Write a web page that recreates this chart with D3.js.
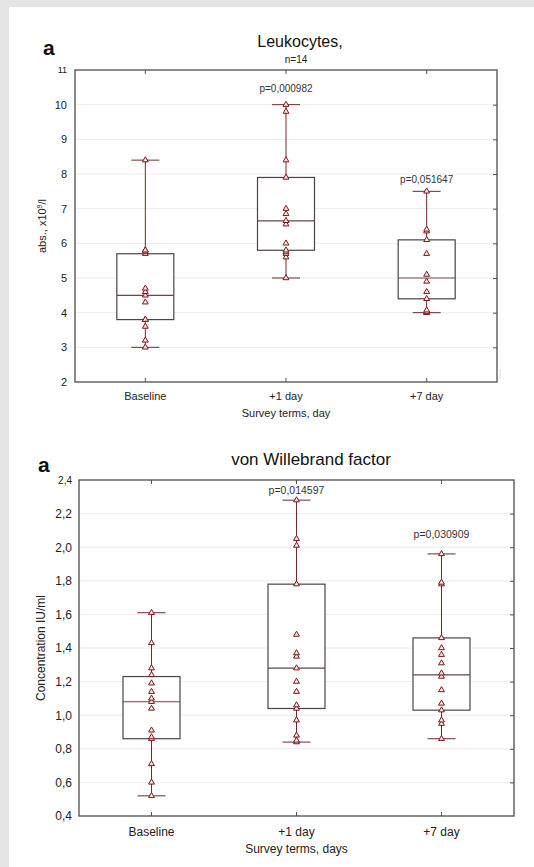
<!DOCTYPE html>
<html>
<head>
<meta charset="utf-8">
<script src="https://cdn.jsdelivr.net/npm/d3@7"></script>
<style>
  body { margin: 0; background: #e5e5e5; }
  svg { display: block; font-family: Arial, "Liberation Sans", sans-serif; }
</style>
</head>
<body>
<svg id="chart" width="534" height="867"></svg>
<script>
'use strict';

// groups
var groups = ["Baseline", "+1 day", "+7 day"];

// Leukocytes, abs. x10^9/l
var leukoMin = [3.0, 5.0, 4.0];
var leukoQ1  = [3.8, 5.8, 4.4];
var leukoMed = [4.5, 6.65, 5.0];
var leukoQ3  = [5.7, 7.9, 6.1];
var leukoMax = [8.4, 10.0, 7.5];
var leukoPoints = [
  [3.0, 3.2, 3.6, 3.8, 3.8, 4.3, 4.5, 4.6, 4.7, 5.7, 5.75, 5.8, 5.8, 8.4],
  [5.0, 5.6, 5.7, 5.75, 5.8, 6.0, 6.55, 6.65, 6.85, 7.0, 7.9, 8.4, 9.8, 10.0],
  [4.0, 4.0, 4.03, 4.07, 4.4, 4.6, 4.9, 5.1, 5.7, 6.1, 6.35, 6.4, 7.5]
];
var leukoP = ["", "p=0,000982", "p=0,051647"];
var leukoTicks = [2, 3, 4, 5, 6, 7, 8, 9, 10, 11];

// von Willebrand factor, IU/ml
var vwfMin = [0.52, 0.84, 0.86];
var vwfQ1  = [0.86, 1.04, 1.03];
var vwfMed = [1.08, 1.28, 1.24];
var vwfQ3  = [1.23, 1.78, 1.46];
var vwfMax = [1.61, 2.28, 1.96];
var vwfPoints = [
  [0.52, 0.60, 0.71, 0.86, 0.87, 0.91, 1.04, 1.08, 1.10, 1.14, 1.19, 1.24, 1.28, 1.43, 1.61],
  [0.84, 0.85, 0.88, 0.97, 1.04, 1.06, 1.14, 1.20, 1.28, 1.35, 1.37, 1.48, 1.78, 2.01, 2.05, 2.28],
  [0.86, 0.95, 0.97, 1.03, 1.07, 1.15, 1.23, 1.25, 1.31, 1.36, 1.40, 1.46, 1.78, 1.79, 1.96]
];
var vwfP = ["", "p=0,014597", "p=0,030909"];
var vwfTicks = [0.4, 0.6, 0.8, 1.0, 1.2, 1.4, 1.6, 1.8, 2.0, 2.2, 2.4];

var svg = d3.select('#chart');

// white sheet
svg.append('rect').attr('x', 9).attr('y', 7).attr('width', 534 - 9).attr('height', 867 - 7).attr('fill', '#fff');

var commaFmt = function (f) {
  return function (d) { return f(d).replace('.', ','); };
};

function drawPanel(c) {
  var g = svg.append('g');
  var x = d3.scaleBand().domain(groups).range([c.left, c.right]).padding(0);
  var y = d3.scaleLinear().domain(c.domain).range([c.bottom, c.top]);
  var cx = function (i) { return x(groups[i]) + x.bandwidth() / 2; };

  // gridlines
  g.append('g').selectAll('line').data(c.ticks.slice(1, -1)).enter().append('line')
    .attr('x1', c.left).attr('x2', c.right)
    .attr('y1', function (d) { return y(d); }).attr('y2', function (d) { return y(d); })
    .attr('stroke', '#ececec').attr('stroke-width', 1);

  // axes (ticks inside on every side)
  var left = d3.axisLeft(y).tickValues(c.ticks).tickSize(0).tickPadding(c.tickPad).tickFormat(c.fmt);
  var gl = g.append('g').attr('transform', 'translate(' + c.left + ',0)').call(left);
  gl.select('.domain').remove();
  gl.selectAll('text').attr('font-size', c.tickFont).attr('fill', '#222').attr('font-family', null);
  if (c.topTickFont) {
    gl.selectAll('.tick').filter(function (d) { return d === c.domain[1]; })
      .select('text').attr('font-size', c.topTickFont);
  }

  var right = d3.axisRight(y).tickValues(c.ticks.slice(1, -1)).tickSize(-4).tickFormat('');
  var gr = g.append('g').attr('transform', 'translate(' + c.right + ',0)').call(right);
  gr.select('.domain').remove();
  gr.selectAll('line').attr('stroke', '#555');

  var bottom = d3.axisBottom(x).tickSize(-4).tickPadding(c.xPad);
  var gb = g.append('g').attr('transform', 'translate(0,' + c.bottom + ')').call(bottom);
  gb.select('.domain').remove();
  gb.selectAll('line').attr('stroke', '#555');
  gb.selectAll('text').attr('font-size', c.tickFont).attr('fill', '#222').attr('font-family', null);

  var top = d3.axisTop(x).tickSize(-4).tickFormat('');
  var gt = g.append('g').attr('transform', 'translate(0,' + c.top + ')').call(top);
  gt.select('.domain').remove();
  gt.selectAll('line').attr('stroke', '#555');

  // frame
  g.append('rect').attr('x', c.left).attr('y', c.top)
    .attr('width', c.right - c.left).attr('height', c.bottom - c.top)
    .attr('fill', 'none').attr('stroke', '#4d4d4d').attr('stroke-width', 1.3);

  // boxes
  var idx = d3.range(groups.length);
  var boxes = g.append('g').selectAll('g').data(idx).enter().append('g');
  var wc = '#6b2b2b';
  boxes.append('line').attr('x1', cx).attr('x2', cx)
    .attr('y1', function (i) { return y(c.min[i]); }).attr('y2', function (i) { return y(c.max[i]); })
    .attr('stroke', wc);
  boxes.append('line')
    .attr('x1', function (i) { return cx(i) - c.capW / 2; }).attr('x2', function (i) { return cx(i) + c.capW / 2; })
    .attr('y1', function (i) { return y(c.min[i]); }).attr('y2', function (i) { return y(c.min[i]); })
    .attr('stroke', wc);
  boxes.append('line')
    .attr('x1', function (i) { return cx(i) - c.capW / 2; }).attr('x2', function (i) { return cx(i) + c.capW / 2; })
    .attr('y1', function (i) { return y(c.max[i]); }).attr('y2', function (i) { return y(c.max[i]); })
    .attr('stroke', wc);
  boxes.append('rect')
    .attr('x', function (i) { return cx(i) - c.boxW / 2; }).attr('width', c.boxW)
    .attr('y', function (i) { return y(c.q3[i]); })
    .attr('height', function (i) { return y(c.q1[i]) - y(c.q3[i]); })
    .attr('fill', '#fff').attr('stroke', '#4d4343').attr('stroke-width', 1.2);
  boxes.append('line')
    .attr('x1', function (i) { return cx(i) - c.boxW / 2; }).attr('x2', function (i) { return cx(i) + c.boxW / 2; })
    .attr('y1', function (i) { return y(c.med[i]); }).attr('y2', function (i) { return y(c.med[i]); })
    .attr('stroke', '#6a4545').attr('stroke-width', 1.2);

  // raw points
  var tri = d3.symbol().type(d3.symbolTriangle).size(15);
  idx.forEach(function (i) {
    g.append('g').selectAll('path').data(c.points[i]).enter().append('path')
      .attr('d', tri)
      .attr('transform', function (v) { return 'translate(' + cx(i) + ',' + y(v) + ')'; })
      .attr('fill', '#f4e6e6').attr('stroke', '#7d1818').attr('stroke-width', 1);
  });

  // p values
  g.append('g').selectAll('text').data(idx.filter(function (i) { return c.p[i]; })).enter().append('text')
    .attr('x', cx).attr('y', function (i) { return y(c.max[i]) + c.pDy[i]; })
    .attr('text-anchor', 'middle').attr('font-size', c.pFont).attr('fill', '#333')
    .text(function (i) { return c.p[i]; });

  // titles
  g.append('text').attr('x', c.aX).attr('y', c.aY).attr('font-size', 21).attr('font-weight', 'bold')
    .attr('fill', '#111').text('a');
  g.append('text').attr('x', c.titleX).attr('y', c.titleY).attr('text-anchor', 'middle')
    .attr('font-size', c.titleFont).attr('fill', '#111').text(c.title);
  if (c.sub) {
    g.append('text').attr('x', c.subX).attr('y', c.subY).attr('text-anchor', 'middle')
      .attr('font-size', 10).attr('fill', '#222').text(c.sub);
  }
  g.append('text').attr('x', (c.left + c.right) / 2).attr('y', c.xTitleY).attr('text-anchor', 'middle')
    .attr('font-size', c.tickFont).attr('fill', '#222').text(c.xTitle);

  var yt = g.append('text')
    .attr('transform', 'translate(' + c.yTitleX + ',' + (c.top + c.bottom) / 2 + ') rotate(-90)')
    .attr('text-anchor', 'middle').attr('font-size', c.tickFont).attr('fill', '#222');
  c.yTitle(yt);
}

drawPanel({
  left: 75, right: 497, top: 70, bottom: 382,
  domain: [2, 11], ticks: leukoTicks, fmt: d3.format('d'), topTickFont: 9,
  min: leukoMin, q1: leukoQ1, med: leukoMed, q3: leukoQ3, max: leukoMax,
  points: leukoPoints, p: leukoP, pDy: [0, -13, -8], pFont: 10,
  boxW: 57, capW: 28, tickFont: 11, tickPad: 8, xPad: 10,
  aX: 43, aY: 55, title: 'Leukocytes,', titleX: 300, titleY: 47, titleFont: 16,
  sub: 'n=14', subX: 296, subY: 63,
  xTitle: 'Survey terms, day', xTitleY: 417, yTitleX: 46,
  yTitle: function (t) {
    t.append('tspan').text('abs., x10');
    t.append('tspan').attr('font-size', 7).attr('dy', -4).text('9');
    t.append('tspan').attr('dy', 4).text('/l');
  }
});

drawPanel({
  left: 79, right: 514, top: 480, bottom: 816,
  domain: [0.4, 2.4], ticks: vwfTicks, fmt: commaFmt(d3.format('.1f')), topTickFont: 10,
  min: vwfMin, q1: vwfQ1, med: vwfMed, q3: vwfQ3, max: vwfMax,
  points: vwfPoints, p: vwfP, pDy: [0, -6, -16], pFont: 10.5,
  boxW: 57, capW: 28, tickFont: 12, tickPad: 7, xPad: 11,
  aX: 38, aY: 472, title: 'von Willebrand factor', titleX: 311, titleY: 465, titleFont: 17,
  xTitle: 'Survey terms, days', xTitleY: 853, yTitleX: 45,
  yTitle: function (t) { t.text('Concentration IU/ml'); }
});

// faint scan mark at the right of the first plot
svg.append('line').attr('x1', 500).attr('x2', 500).attr('y1', 369).attr('y2', 379)
  .attr('stroke', '#dcdcdc').attr('stroke-width', 1);
</script>
</body>
</html>
